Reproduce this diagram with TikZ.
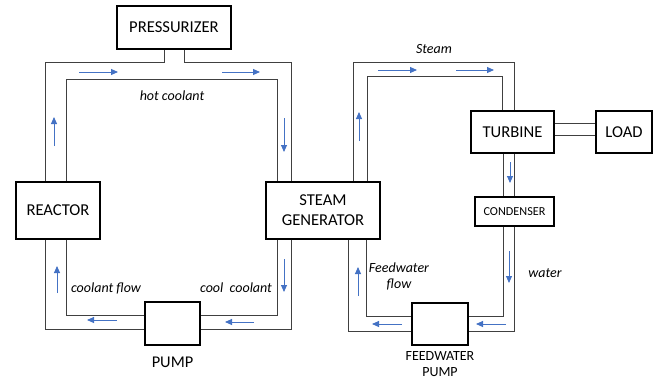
\documentclass[tikz,border=0pt]{standalone}
\usepackage{fontspec}
\setmainfont{Carlito}
\usetikzlibrary{arrows.meta,positioning,calc}
\definecolor{flowblue}{HTML}{4472C4}
\definecolor{pipegray}{HTML}{404040}

\begin{document}
\begin{tikzpicture}[x=1pt,y=-1pt,>=Stealth,
  box/.style={draw,line width=1.2pt,align=center,inner sep=0pt,font=\fontsize{16.6}{20}\selectfont},
  pipe/.style={draw=pipegray,line width=0.9pt},
  flow/.style={draw=flowblue,line width=0.9pt,-{Triangle[length=7pt,width=6pt]}},
  lbl/.style={font=\fontsize{14}{16}\selectfont\itshape,align=center,inner sep=0pt}]
  \useasboundingbox (0,0) rectangle (661,380);
  % boxes
  \node[box,minimum width=114pt,minimum height=43pt] (prz) at (174,27.5) {PRESSURIZER};
  \node[box,minimum width=84pt,minimum height=57pt] (reactor) at (58,210.5) {REACTOR};
  \node[box,minimum width=114pt,minimum height=57pt] (sg) at (323,210.5) {STEAM\\GENERATOR};
  \node[box,minimum width=55pt,minimum height=43pt] (pump) at (172.5,323.5) {};
  \node[box,minimum width=83pt,minimum height=42pt] (turbine) at (512.5,132) {TURBINE};
  \node[box,minimum width=56pt,minimum height=42pt] (load) at (624,132) {LOAD};
  \node[box,minimum width=79pt,minimum height=29pt,font=\fontsize{12.2}{14}\selectfont] (cond) at (514.5,211.5) {CONDENSER};
  \node[box,minimum width=56pt,minimum height=42pt] (fwpump) at (440,324) {};
  \node[font=\fontsize{16.4}{20}\selectfont,below=8pt of pump] (pumplbl) {PUMP};
  \node[font=\fontsize{14}{16}\selectfont,align=center,inner sep=0pt,below=6pt of fwpump] (fwlbl) {FEEDWATER\\PUMP};
  % primary loop
  \draw[pipe] (45,0|-reactor.north) |- (164,62) -- (164,0|-prz.south);
  \draw[pipe] (184,0|-prz.south) -- (184,62) -| (291,0|-sg.north);
  \draw[pipe] (66,0|-reactor.north) -- (66,79) -| (277,0|-sg.north);
  \draw[pipe] (45,0|-reactor.south) |- (pump.west|-0,329);
  \draw[pipe] (66,0|-reactor.south) |- (pump.west|-0,315);
  \draw[pipe] (291,0|-sg.south) |- (pump.east|-0,329);
  \draw[pipe] (277,0|-sg.south) |- (pump.east|-0,315);
  % secondary loop
  \draw[pipe] (353,0|-sg.north) -- (353,62) -| (514,0|-turbine.north);
  \draw[pipe] (367,0|-sg.north) -- (367,76) -| (502,0|-turbine.north);
  \draw[pipe] (503,0|-turbine.south) -- (503,0|-cond.north);
  \draw[pipe] (514,0|-turbine.south) -- (514,0|-cond.north);
  \draw[pipe] (503,0|-cond.south) |- (fwpump.east|-0,316);
  \draw[pipe] (514,0|-cond.south) |- (fwpump.east|-0,331);
  \draw[pipe] (366,0|-sg.south) |- (fwpump.west|-0,316);
  \draw[pipe] (348,0|-sg.south) |- (fwpump.west|-0,331);
  \draw[pipe] (turbine.east|-0,123) -- (load.west|-0,123);
  \draw[pipe] (turbine.east|-0,135) -- (load.west|-0,135);
  % flow arrows
  \draw[flow] (79,72) -- (118,72); \draw[flow] (222,72) -- (260,72);
  \draw[flow] (54,146) -- (54,117); \draw[flow] (284,118) -- (284,152);
  \draw[flow] (57,293) -- (57,266); \draw[flow] (284,259) -- (284,292);
  \draw[flow] (117,320) -- (87,320); \draw[flow] (254,322) -- (225,322);
  \draw[flow] (378,70) -- (417,70); \draw[flow] (456,70) -- (494,70);
  \draw[flow] (359,141) -- (359,112); \draw[flow] (510,162) -- (510,183);
  \draw[flow] (358,296) -- (358,267); \draw[flow] (509,251) -- (509,283);
  \draw[flow] (402,324) -- (372,324); \draw[flow] (506,324) -- (476,324);
  % labels
  \node[lbl] (hot) at (172,96) {hot coolant};
  \node[lbl] (cflow) at (106,288) {coolant flow};
  \node[lbl] (cool) at (236,288) {cool~ coolant};
  \node[lbl] (steam) at (434,49) {Steam};
  \node[lbl] (fwflow) at (399,276) {Feedwater\\flow};
  \node[lbl] (water) at (545,273) {water};
\end{tikzpicture}
\end{document}
